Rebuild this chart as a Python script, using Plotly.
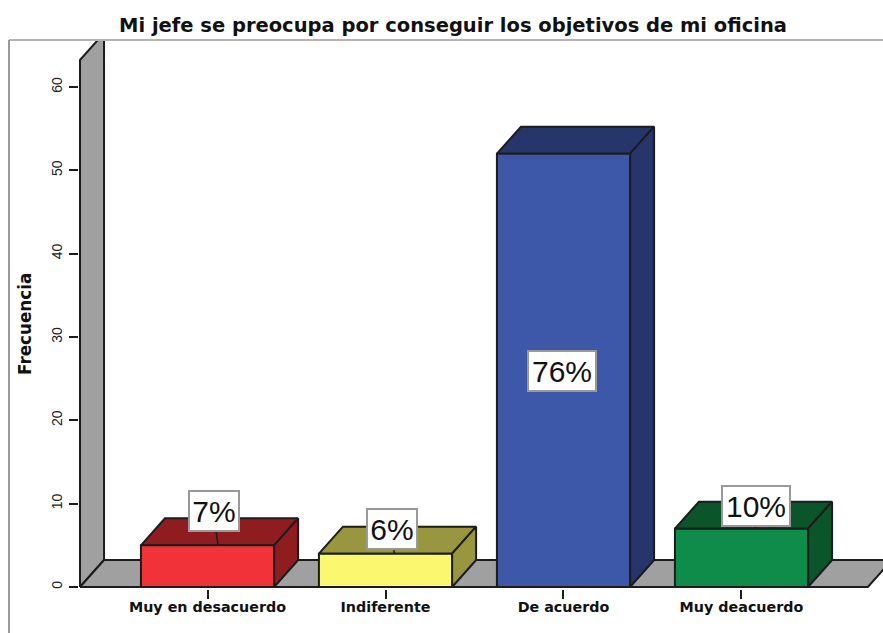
import plotly.graph_objects as go

# ---- data ----
categories = ["Muy en desacuerdo", "Indiferente", "De acuerdo", "Muy deacuerdo"]
frequencies = [5, 4, 52, 7]
percent_labels = ["7%", "6%", "76%", "10%"]
y_ticks = [0, 10, 20, 30, 40, 50, 60]

# ---- styles ----
front_colors = ["#F23239", "#FBF76E", "#3D58A8", "#0F8C4A"]
dark_colors = ["#8F1D20", "#98963F", "#26366A", "#0A5529"]
GRAY = "#A0A0A0"
EDGE = "#1c1c1c"

# ---- layout geometry (data units) ----
W, H = 883, 633
HALF = 0.374
DX, DY = 0.135, 3.24
X_LEFT, X_RIGHT = -0.7163, 3.71
WALL_TOP = 63.24
XR = [-0.7219, 3.795]
YR = [-0.24, 65.64]
label_dx = [0.034, 0.034, -0.006, 0.084]
label_y = [9.12, 6.96, 25.92, 9.72]
label_w = [46, 46, 64, 64]
leader_dx = [0.059, 0.05, None, 0.076]


def poly(fig, xs, ys, color):
    fig.add_trace(go.Scatter(
        x=list(xs) + [xs[0]], y=list(ys) + [ys[0]], mode="lines", fill="toself",
        fillcolor=color, line=dict(color=EDGE, width=2), hoverinfo="skip", showlegend=False))


fig = go.Figure()
# wall and floor
poly(fig, [X_LEFT, X_LEFT, X_LEFT + DX, X_LEFT + DX], [0, WALL_TOP, WALL_TOP + DY, DY], GRAY)
poly(fig, [X_LEFT, X_RIGHT, X_RIGHT + DX, X_LEFT + DX], [0, 0, DY, DY], GRAY)

# bars
for i, v in enumerate(frequencies):
    x0, x1 = i - HALF, i + HALF
    poly(fig, [x0, x1, x1 + DX, x0 + DX], [v, v, v + DY, v + DY], dark_colors[i])
    poly(fig, [x1, x1 + DX, x1 + DX, x1], [0, DY, v + DY, v], dark_colors[i])
    poly(fig, [x0, x1, x1, x0], [0, 0, v, v], front_colors[i])

# leader lines
for i, v in enumerate(frequencies):
    if leader_dx[i] is None:
        continue
    fig.add_trace(go.Scatter(
        x=[i + label_dx[i], i + leader_dx[i]], y=[label_y[i], v], mode="lines",
        line=dict(color=EDGE, width=1.5), hoverinfo="skip", showlegend=False))

annotations = [
    dict(x=i + label_dx[i], y=label_y[i], text=percent_labels[i], showarrow=False,
         font=dict(family="Liberation Sans", size=30, color="#111"),
         bgcolor="white", bordercolor="#999999", borderwidth=2,
         width=label_w[i], height=36, xanchor="center", yanchor="middle", align="center")
    for i in range(4)
]
annotations.append(dict(
    xref="paper", yref="paper", x=(25 - 79) / 804, y=1 - (324 - 40) / 549,
    text="<b>Frecuencia</b>", textangle=-90, showarrow=False,
    xanchor="center", yanchor="middle",
    font=dict(family="DejaVu Sans", size=16.8, color="#111")))

fig.update_layout(
    width=W, height=H, autosize=False,
    margin=dict(l=79, r=0, t=40, b=44),
    paper_bgcolor="white", plot_bgcolor="white",
    title=dict(text="<b>Mi jefe se preocupa por conseguir los objetivos de mi oficina</b>",
               font=dict(family="DejaVu Sans", size=19.5, color="#111"),
               x=453 / W, xanchor="center", y=1 - 25 / H, yanchor="middle"),
    xaxis=dict(range=XR, tickmode="array", tickvals=list(range(4)),
               ticktext=[f"<b>{c}</b>" for c in categories],
               ticks="outside", ticklen=9, tickwidth=1.5, tickcolor=EDGE,
               ticklabelstandoff=-4,
               tickfont=dict(family="DejaVu Sans", size=14.3, color="#111"),
               showgrid=False, zeroline=False, showline=False),
    yaxis=dict(range=YR, tickmode="array", tickvals=y_ticks, ticks="outside",
               ticklen=9, tickwidth=1.5, tickcolor=EDGE, tickangle=-90,
               ticklabelstandoff=1,
               tickfont=dict(family="Liberation Sans", size=14, color="#222"),
               showgrid=False, zeroline=False, showline=False),
    annotations=annotations,
    shapes=[
        dict(type="line", xref="paper", yref="paper", x0=(9 - 79) / 804, x1=1, y0=1, y1=1,
             line=dict(color="#B4B4B4", width=2)),
        dict(type="line", xref="paper", yref="paper", x0=(9 - 79) / 804, x1=(9 - 79) / 804,
             y0=1, y1=-44 / 549, line=dict(color="#9a9a9a", width=2)),
    ],
)

fig.write_html("out.html", config={"displayModeBar": False},
               post_script="document.body.style.margin='0';document.documentElement.style.overflow='hidden';")
